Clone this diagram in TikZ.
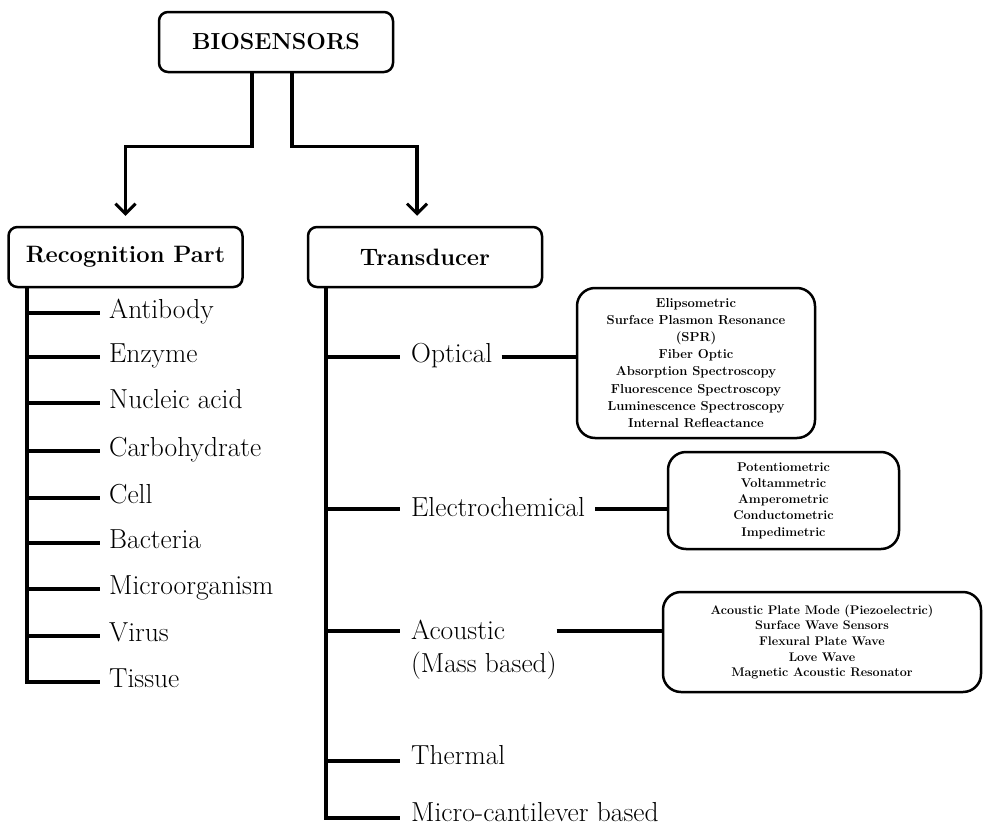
\documentclass[tikz,border=0pt]{standalone}
\usetikzlibrary{arrows.meta}
\begin{document}
\begin{tikzpicture}[x=1pt,y=-1pt,
  mainbox/.style={draw, line width=2.5pt, rounded corners=9pt, minimum width=234pt, minimum height=60pt, inner sep=0pt, font=\bfseries\fontsize{23.7}{28}\selectfont},
  detbox/.style={draw, line width=2.5pt, rounded corners=18pt, inner sep=0pt, align=center},
  conn/.style={line width=3.5pt},
  item/.style={anchor=base west, inner sep=0pt, font=\fontsize{27.5}{33}\selectfont},
  arr/.style={line width=3.5pt, -{Straight Barb[length=10pt,width=20pt,line width=3pt]}, shorten >=10pt}]
\useasboundingbox (0,0) rectangle (983,827);

% main boxes
\node[mainbox, font=\bfseries\fontsize{23.2}{28}\selectfont] (bio) at (276,42) {BIOSENSORS};
\node[mainbox] (rec) at (125.5,257) {Recognition Part};
\node[mainbox] (trans) at (425,257) {Transducer};

% arrows
\draw[arr] ([xshift=-24pt]bio.south) -- ++(0,73) -| (rec.north);
\draw[arr] ([xshift=16pt]bio.south) -- ++(0,73) -| ([xshift=-8pt]trans.north);

% recognition list
\coordinate (rx) at (27,0);
\foreach \t/\y [count=\i] in {Antibody/313, Enzyme/357, Nucleic acid/403, Carbohydrate/451, Cell/498, Bacteria/543, Microorganism/589, Virus/636, Tissue/682} {
  \coordinate (r\i) at (27,\y);
  \coordinate (re\i) at (100,\y);
  \draw[conn] (r\i) -- (re\i);
  \node[item] (ri\i) at ([xshift=9pt,yshift=-5pt]re\i) {\t};
}
\draw[conn] (rec.south -| rx) |- (re9);

% transducer list
\coordinate (tx) at (326,0);
\coordinate (tO) at (326,357);  \coordinate (tOe) at (400,357);
\coordinate (tE) at (326,509);  \coordinate (tEe) at (400,509);
\coordinate (tA) at (326,631);  \coordinate (tAe) at (400,631);
\coordinate (tT) at (326,761);  \coordinate (tTe) at (400,761);
\coordinate (tM) at (326,818);  \coordinate (tMe) at (400,818);
\draw[conn] (tO) -- (tOe);
\draw[conn] (tE) -- (tEe);
\draw[conn] (tA) -- (tAe);
\draw[conn] (tT) -- (tTe);
\draw[conn] (trans.south -| tx) |- (tMe);

\node[item] (lblO) at ([xshift=11pt,yshift=-5pt]tOe) {Optical};
\node[item] (lblE) at ([xshift=11pt,yshift=-7pt]tEe) {Electrochemical};
\node[item] (lblA) at ([xshift=11pt,yshift=-8pt]tAe) {Acoustic};
\node[item] (lblA2) at ([xshift=11pt,yshift=-41pt]tAe) {(Mass based)};
\node[item] (lblT) at ([xshift=11pt,yshift=-3pt]tTe) {Thermal};
\node[item] (lblM) at ([xshift=11pt,yshift=-3pt]tMe) {Micro-cantilever based};

% detail boxes
\node[detbox, minimum width=238pt, minimum height=150pt, font=\bfseries\fontsize{13}{17.1}\selectfont] (optbox) at (696,363)
  {Elipsometric\\Surface Plasmon Resonance\\(SPR)\\Fiber Optic\\Absorption Spectroscopy\\Fluorescence Spectroscopy\\Luminescence Spectroscopy\\Internal Refleactance};
\node[detbox, minimum width=231pt, minimum height=97pt, font=\bfseries\fontsize{12.7}{16.3}\selectfont] (elbox) at (783.5,500.5)
  {Potentiometric\\Voltammetric\\Amperometric\\Conductometric\\Impedimetric};
\node[detbox, minimum width=318pt, minimum height=100pt, font=\bfseries\fontsize{12.5}{15.7}\selectfont] (acbox) at (822,642)
  {Acoustic Plate Mode (Piezoelectric)\\Surface Wave Sensors\\Flexural Plate Wave\\Love Wave\\Magnetic Acoustic Resonator};

% connectors to detail boxes
\draw[conn] ([xshift=9pt]lblO.east |- tO) -- (tO -| optbox.west);
\draw[conn] ([xshift=10pt]lblE.east |- tE) -- (tE -| elbox.west);
\draw[conn] (lblA2.east |- tA) -- (tA -| acbox.west);
\end{tikzpicture}
\end{document}
